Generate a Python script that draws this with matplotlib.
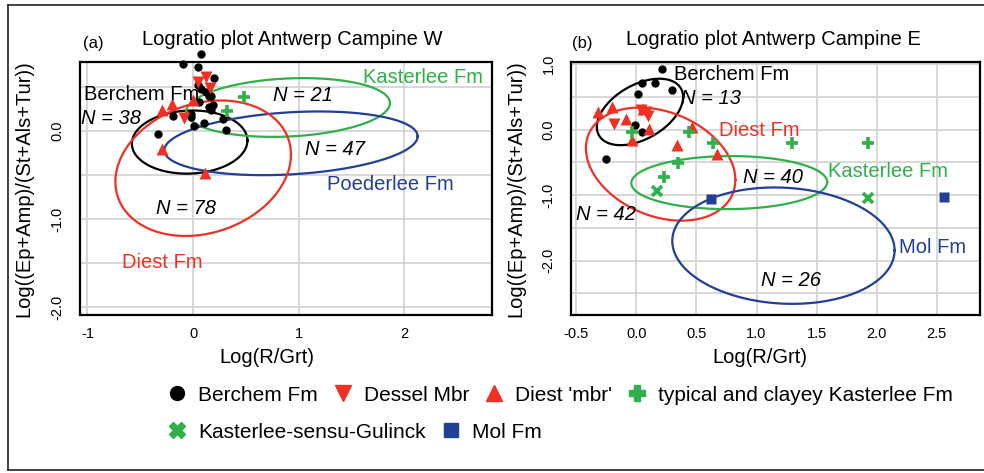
import numpy as np
import matplotlib
matplotlib.use('Agg')
import matplotlib.pyplot as plt
from matplotlib.lines import Line2D

plt.rcParams['font.family'] = ['Liberation Sans', 'DejaVu Sans']
plt.rcParams['axes.unicode_minus'] = False

# ---- panel (a): Antwerp Campine W ----
a_berchem_x = [0.076, -0.092, 0.044, 0.2, 0.044, 0.076, 0.12, 0.154, 0.17, 0.154, 0.186,
               0.17, 0.06, -0.19, -0.02, -0.02, 0.107, 0.28, 0.006, 0.31, -0.33]
a_berchem_y = [0.877, 0.763, 0.725, 0.605, 0.518, 0.48, 0.442, 0.404, 0.393, 0.272, 0.291,
               0.242, 0.328, 0.17, 0.197, 0.158, 0.095, 0.132, 0.053, 0.008, -0.03]
a_dessel_x = [0.12, 0.05, 0.157, -0.09]
a_dessel_y = [0.62, 0.555, 0.495, 0.152]
a_diest_x = [-0.29, -0.2, 0.003, -0.29, 0.11]
a_diest_y = [0.234, 0.31, 0.353, -0.2, -0.476]
a_kast_x = [0.485, 0.317]
a_kast_y = [0.385, 0.226]

# ellipses: centre x, centre y, half width, half height, correlation
a_ell_names = ['Berchem', 'Kasterlee', 'Poederlee', 'Diest']
a_ell = [(-0.032, -0.125, 0.547, 0.359, 0.05),
         (0.899, 0.268, 0.965, 0.334, 0.15),
         (0.927, -0.139, 1.199, 0.362, 0.22),
         (0.096, -0.422, 0.831, 0.77, 0.2)]

# ---- panel (b): Antwerp Campine E ----
b_berchem_x = [0.215, 0.044, 0.157, 0.298, 0.017, -0.014, 0.044, -0.249]
b_berchem_y = [0.919, 0.711, 0.711, 0.6, 0.548, 0.066, -0.036, -0.457]
b_dessel_x = [-0.19, 0.039, 0.08, 0.095]
b_dessel_y = [0.091, 0.294, 0.268, 0.2]
b_diest_x = [-0.32, -0.2, -0.085, 0.058, 0.108, -0.036, 0.342, 0.466, 0.668]
b_diest_y = [0.268, 0.344, 0.157, 0.32, 0.015, -0.163, -0.239, 0.04, -0.376]
b_kast_x = [-0.033, 0.434, 0.635, 1.293, 1.928, 0.345, 0.227]
b_kast_y = [-0.036, -0.036, -0.203, -0.203, -0.203, -0.518, -0.731]
b_gulinck_x = [0.171, 1.928]
b_gulinck_y = [-0.934, -1.05]
b_mol_x = [0.622, 2.564]
b_mol_y = [-1.066, -1.036]

b_ell_names = ['Berchem', 'Diest', 'Kasterlee', 'Mol']
b_ell = [(0.03, 0.268, 0.359, 0.507, 0.45),
         (0.202, -0.528, 0.622, 0.863, -0.28),
         (0.773, -0.81, 0.815, 0.405, 0.02),
         (1.224, -1.772, 0.925, 0.888, -0.08)]

BLACK = '#000000'
RED = '#ee3124'
GREEN = '#2fb04a'
BLUE = '#223f96'
GRID = '#d4d4d4'
ell_col = {'Berchem': BLACK, 'Kasterlee': GREEN, 'Poederlee': BLUE, 'Diest': RED, 'Mol': BLUE}


def ellipse(cx, cy, hx, hy, r):
    t = np.linspace(0, 2 * np.pi, 300)
    return cx + hx * np.cos(t), cy + hy * np.cos(t + np.arccos(r))


fig = plt.figure(figsize=(9.84, 4.73), dpi=100)
axa = fig.add_axes([80 / 984, 1 - 315 / 473, 412 / 984, 253 / 473])
axb = fig.add_axes([571 / 984, 1 - 315 / 473, 409 / 984, 253 / 473])

# outer frame
for xs, ys in [([0.008, 0.008], [0.006, 0.989]), ([0.008, 1.0], [0.989, 0.989]),
               ([0.008, 1.0], [0.006, 0.006])]:
    fig.add_artist(Line2D(xs, ys, color='#333333', lw=1.3, transform=fig.transFigure))


def style(ax):
    ax.grid(True, which='both', color=GRID, lw=1.3)
    ax.set_axisbelow(True)
    for s in ax.spines.values():
        s.set_linewidth(1.6)
    ax.tick_params(which='both', length=0, labelsize=10.5)
    ax.tick_params(axis='x', pad=9)
    ax.tick_params(axis='y', pad=11)
    for lab in ax.get_yticklabels():
        lab.set_rotation(90)
        lab.set_va('center')
    ax.set_xlabel('Log(R/Grt)', fontsize=14.5)
    ax.set_ylabel('Log((Ep+Amp)/(St+Als+Tur))', fontsize=14.5)


def points(ax, x, y, marker, color, size, mew=0):
    if mew:
        ax.plot(x, y, ls='none', marker=marker, color=color, ms=size, mew=mew,
                clip_on=False, zorder=4)
    else:
        ax.plot(x, y, ls='none', marker=marker, color=color, ms=size, mec='none',
                clip_on=False, zorder=4)


# panel a
for name, p in zip(a_ell_names, a_ell):
    ex, ey = ellipse(*p)
    axa.plot(ex, ey, color=ell_col[name], lw=1.6, zorder=3)
points(axa, a_berchem_x, a_berchem_y, 'o', BLACK, 6)
points(axa, a_dessel_x, a_dessel_y, 'v', RED, 8)
points(axa, a_diest_x, a_diest_y, '^', RED, 8)
points(axa, a_kast_x, a_kast_y, '+', GREEN, 8, mew=2.6)
axa.set_xlim(-1.07, 2.83)
axa.set_ylim(-2.09, 0.785)
axa.set_xticks([-1, 0, 1, 2], ['-1', '0', '1', '2'])
axa.set_yticks([0, -1, -2], ['0.0', '-1.0', '-2.0'])
axa.set_yticks(np.arange(-2, 0.6, 0.5), minor=True)
style(axa)

a_labels = [(1.611, 0.612, 'Kasterlee Fm', GREEN, 'normal'),
            (0.753, 0.404, 'N = 21', BLACK, 'italic'),
            (-1.028, 0.412, 'Berchem Fm', BLACK, 'normal'),
            (-1.06, 0.14, 'N = 38', BLACK, 'italic'),
            (1.062, -0.207, 'N = 47', BLACK, 'italic'),
            (1.264, -0.607, 'Poederlee Fm', BLUE, 'normal'),
            (-0.35, -0.879, 'N = 78', BLACK, 'italic'),
            (-0.672, -1.495, 'Diest Fm', RED, 'normal')]
for x, y, s, c, st in a_labels:
    axa.text(x, y, s, color=c, fontstyle=st, fontsize=14.5, ha='left', va='center', zorder=5)

# panel b
for name, p in zip(b_ell_names, b_ell):
    ex, ey = ellipse(*p)
    axb.plot(ex, ey, color=ell_col[name], lw=1.6, zorder=3)
points(axb, b_berchem_x, b_berchem_y, 'o', BLACK, 6)
points(axb, b_dessel_x, b_dessel_y, 'v', RED, 8)
points(axb, b_diest_x, b_diest_y, '^', RED, 8)
points(axb, b_kast_x, b_kast_y, '+', GREEN, 8, mew=2.6)
points(axb, b_gulinck_x, b_gulinck_y, 'x', GREEN, 6.5, mew=2.6)
points(axb, b_mol_x, b_mol_y, 's', BLUE, 7.5)
axb.set_xlim(-0.544, 2.86)
axb.set_ylim(-2.83, 1.03)
bx = [-0.5, 0.0, 0.5, 1.0, 1.5, 2.0, 2.5]
axb.set_xticks(bx, ['%.1f' % v for v in bx])
axb.set_yticks([1, 0, -1, -2], ['1.0', '0.0', '-1.0', '-2.0'])
axb.set_yticks(np.arange(-2.5, 1.01, 0.5), minor=True)
style(axb)

b_labels = [(0.312, 0.843, 'Berchem Fm', BLACK, 'normal'),
            (0.373, 0.472, 'N = 13', BLACK, 'italic'),
            (0.685, -0.02, 'Diest Fm', RED, 'normal'),
            (1.597, -0.635, 'Kasterlee Fm', GREEN, 'normal'),
            (0.884, -0.736, 'N = 40', BLACK, 'italic'),
            (-0.506, -1.294, 'N = 42', BLACK, 'italic'),
            (2.188, -1.797, 'Mol Fm', BLUE, 'normal'),
            (1.036, -2.305, 'N = 26', BLACK, 'italic')]
for x, y, s, c, st in b_labels:
    axb.text(x, y, s, color=c, fontstyle=st, fontsize=14.5, ha='left', va='center', zorder=5)

# titles and axis label placement
axa.text(0.515, 1.087, 'Logratio plot Antwerp Campine W', transform=axa.transAxes,
         ha='center', va='center', fontsize=14.5)
axa.text(0.007, 1.075, '(a)', transform=axa.transAxes, ha='left', va='center', fontsize=12)
axb.text(0.496, 1.087, 'Logratio plot Antwerp Campine E', transform=axb.transAxes,
         ha='center', va='center', fontsize=14.5)
axb.text(0.002, 1.075, '(b)', transform=axb.transAxes, ha='left', va='center', fontsize=12)
axa.xaxis.set_label_coords(0.454, -0.13)
axb.xaxis.set_label_coords(0.462, -0.13)
axa.yaxis.set_label_coords(-0.114, 0.5)
axb.yaxis.set_label_coords(-0.112, 0.5)

# legend
h1 = [Line2D([], [], ls='none', marker='o', color=BLACK, ms=10),
      Line2D([], [], ls='none', marker='v', color=RED, ms=12),
      Line2D([], [], ls='none', marker='^', color=RED, ms=12),
      Line2D([], [], ls='none', marker='P', color=GREEN, ms=11)]
l1 = ['Berchem Fm', 'Dessel Mbr', "Diest 'mbr'", 'typical and clayey Kasterlee Fm']
h2 = [Line2D([], [], ls='none', marker='X', color=GREEN, ms=11),
      Line2D([], [], ls='none', marker='s', color=BLUE, ms=10)]
l2 = ['Kasterlee-sensu-Gulinck', 'Mol Fm']
kw = dict(frameon=False, handlelength=0.8, handletextpad=0.6, columnspacing=0.8,
          borderpad=0, borderaxespad=0, fontsize=15, loc='center left')
fig.legend(h1, l1, ncol=4, bbox_to_anchor=(169 / 984, 1 - 395 / 473), **kw)
fig.legend(h2, l2, ncol=2, bbox_to_anchor=(169 / 984, 1 - 432 / 473), **kw)

fig.savefig('out.png', dpi=100)
